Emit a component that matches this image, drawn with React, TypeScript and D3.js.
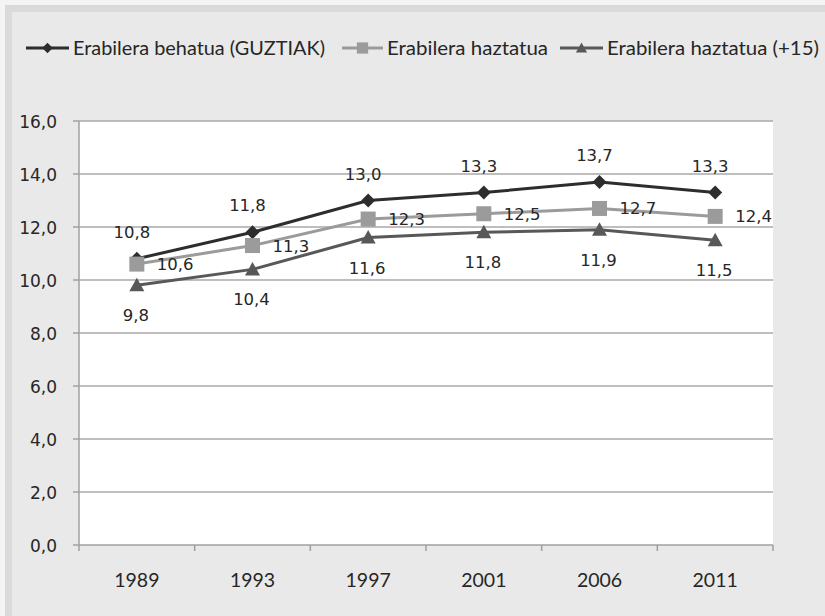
import React from "react";
import * as d3 from "d3";

const years = ["1989", "1993", "1997", "2001", "2006", "2011"];
const behatua = [10.8, 11.8, 13.0, 13.3, 13.7, 13.3];
const haztatua = [10.6, 11.3, 12.3, 12.5, 12.7, 12.4];
const haztatua15 = [9.8, 10.4, 11.6, 11.8, 11.9, 11.5];
const yTicks = [0, 2, 4, 6, 8, 10, 12, 14, 16];
const seriesNames = [
  "Erabilera behatua (GUZTIAK)",
  "Erabilera haztatua",
  "Erabilera haztatua (+15)",
];

const W = 825;
const H = 616;
const left = 79;
const right = 773;
const top = 121;
const bottom = 545;

const fmt = (v: number) => v.toFixed(1).replace(".", ",");

type Shape = "diamond" | "square" | "triangle";

function Marker({ x, y, shape, color, s = 1 }: { x: number; y: number; shape: Shape; color: string; s?: number }) {
  if (shape === "diamond") {
    const r = 7 * s;
    return <path d={`M${x},${y - r}L${x + r},${y}L${x},${y + r}L${x - r},${y}Z`} fill={color} />;
  }
  if (shape === "square") {
    const r = 7.5 * s;
    return <rect x={x - r} y={y - r} width={2 * r} height={2 * r} fill={color} />;
  }
  const r = 7.5 * s;
  return <path d={`M${x},${y - r}L${x + r},${y + r * 0.8}L${x - r},${y + r * 0.8}Z`} fill={color} />;
}

export default function App() {
  const x = d3.scaleBand<string>().domain(years).range([left, right]).padding(0);
  const y = d3.scaleLinear().domain([0, 16]).range([bottom, top]);
  const cx = (yr: string) => (x(yr) as number) + x.bandwidth() / 2;

  const line = d3
    .line<number>()
    .x((_, i) => cx(years[i]))
    .y((d) => y(d));

  const series = [
    { name: seriesNames[0], values: behatua, color: "#2d2d2d", shape: "diamond" as Shape },
    { name: seriesNames[1], values: haztatua, color: "#9b9b9b", shape: "square" as Shape },
    { name: seriesNames[2], values: haztatua15, color: "#585858", shape: "triangle" as Shape },
  ];

  const legend = [
    { x0: 26, x1: 69, tx: 73, len: 252 },
    { x0: 342, x1: 383, tx: 387, len: 161 },
    { x0: 560, x1: 603, tx: 607, len: 212 },
  ];

  const numFont = "'DejaVu Sans', sans-serif";
  const textFont = "Lato, 'Open Sans', sans-serif";
  const textColor = "#262626";
  const bounds = [...years.map((yr) => x(yr) as number), right];

  return (
    <svg
      width={W}
      height={H}
      style={{ position: "absolute", left: 0, top: 0, display: "block" }}
    >
      <rect x={0} y={0} width={W} height={H} fill="#f4f4f4" />
      <rect x={5} y={5} width={W - 5} height={H - 5} fill="#dadada" />
      <rect x={12} y={12} width={W - 12} height={H - 12} fill="#e9e9e9" />

      {/* legend */}
      {series.map((s, i) => {
        const l = legend[i];
        return (
          <g key={s.name}>
            <line x1={l.x0} x2={l.x1} y1={48} y2={48} stroke={s.color} strokeWidth={3} />
            <Marker x={(l.x0 + l.x1) / 2} y={48} shape={s.shape} color={s.color} s={0.75} />
            <text
              x={l.tx}
              y={55}
              fontFamily={textFont}
              fontSize={19.5}
              fill={textColor}
              textLength={l.len}
              lengthAdjust="spacingAndGlyphs"
            >
              {s.name}
            </text>
          </g>
        );
      })}

      {/* plot area */}
      <rect x={left} y={top} width={right - left} height={bottom - top} fill="#ffffff" />

      {yTicks.map((t) => (
        <g key={t}>
          {t > 0 && (
            <line x1={left} x2={right} y1={y(t)} y2={y(t)} stroke="#a8a8a8" strokeWidth={1.5} />
          )}
          <line x1={left - 6} x2={left} y1={y(t)} y2={y(t)} stroke="#a0a0a0" strokeWidth={1.5} />
          <text
            x={57}
            y={y(t) + 6.5}
            textAnchor="end"
            fontFamily={numFont}
            fontSize={17}
            fill={textColor}
          >
            {fmt(t)}
          </text>
        </g>
      ))}

      {/* axes */}
      <line x1={left} x2={left} y1={top} y2={bottom} stroke="#a0a0a0" strokeWidth={1.5} />
      <line x1={left} x2={right} y1={bottom} y2={bottom} stroke="#a0a0a0" strokeWidth={1.5} />
      {bounds.map((b, i) => (
        <line key={i} x1={b} x2={b} y1={bottom} y2={bottom + 6} stroke="#a0a0a0" strokeWidth={1.5} />
      ))}
      {years.map((yr) => (
        <text
          key={yr}
          x={cx(yr)}
          y={587}
          textAnchor="middle"
          fontFamily={textFont}
          fontSize={19.5}
          fill={textColor}
        >
          {yr}
        </text>
      ))}

      {/* series lines and markers */}
      {series.map((s) => (
        <g key={s.name}>
          <path d={line(s.values) as string} fill="none" stroke={s.color} strokeWidth={3} />
          {s.values.map((v, i) => (
            <Marker key={i} x={cx(years[i])} y={y(v)} shape={s.shape} color={s.color} />
          ))}
        </g>
      ))}

      {/* data labels */}
      {behatua.map((v, i) => (
        <text
          key={"a" + i}
          x={cx(years[i]) - 5}
          y={y(v) - 21}
          textAnchor="middle"
          fontFamily={numFont}
          fontSize={16.5}
          fill={textColor}
        >
          {fmt(v)}
        </text>
      ))}
      {haztatua.map((v, i) => (
        <text
          key={"b" + i}
          x={cx(years[i]) + 20}
          y={y(v) + 6}
          fontFamily={numFont}
          fontSize={16.5}
          fill={textColor}
        >
          {fmt(v)}
        </text>
      ))}
      {haztatua15.map((v, i) => (
        <text
          key={"c" + i}
          x={cx(years[i]) - 1}
          y={y(v) + 36}
          textAnchor="middle"
          fontFamily={numFont}
          fontSize={16.5}
          fill={textColor}
        >
          {fmt(v)}
        </text>
      ))}
    </svg>
  );
}
